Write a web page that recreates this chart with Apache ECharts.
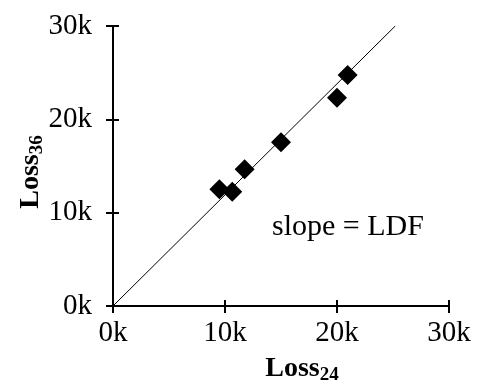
<!DOCTYPE html>
<html>
<head>
<meta charset="utf-8">
<script src="https://cdn.jsdelivr.net/npm/echarts@6/dist/echarts.min.js"></script>
<style>
html,body{margin:0;padding:0;background:#fff;}
#chart{width:483px;height:386px;}
</style>
</head>
<body>
<div id="chart"></div>
<script>
// values in thousands
var loss24 = [9.5, 10.65, 11.75, 15.0, 20.0, 20.95];
var loss36 = [12.5, 12.25, 14.65, 17.55, 22.3, 24.75];
var ldfLineX = [0, 25.2];
var ldfLineY = [0, 30];
var tickValues = [0, 10, 20, 30];
var annotation = 'slope = LDF';

var FONT = '"Liberation Serif", "DejaVu Serif", serif';
var pts = loss24.map(function (x, i) { return [x, loss36[i]]; });
var linePts = ldfLineX.map(function (x, i) { return [x, ldfLineY[i]]; });

var chart = echarts.init(document.getElementById('chart'));
function baseAxis(extra) {
  return Object.assign({
    type: 'value', min: tickValues[0], max: tickValues[tickValues.length - 1], interval: 10,
    splitLine: { show: false },
    axisLine: { show: true, onZero: false, lineStyle: { color: '#000', width: 2 } },
    axisTick: { show: true, length: 7, lineStyle: { color: '#000', width: 2 } },
    axisLabel: { color: '#000', fontFamily: FONT, fontSize: 29, formatter: '{value}k' }
  }, extra);
}
var titleRich = {
  a: { fontFamily: FONT, fontSize: 28, fontWeight: 'bold', color: '#000' },
  b: { fontFamily: FONT, fontSize: 19, fontWeight: 'bold', color: '#000', padding: [14, 0, 0, 0] }
};
chart.setOption({
  animation: false,
  backgroundColor: '#fff',
  grid: { left: 113, right: 34, top: 26, bottom: 80, outerBoundsMode: 'none', containLabel: false },
  xAxis: [
    baseAxis({
      position: 'bottom',
      axisLabel: { color: '#000', fontFamily: FONT, fontSize: 29, formatter: '{value}k', margin: 13 },
      name: '{a|Loss}{b|24}', nameLocation: 'middle', nameGap: 46, nameMoveOverlap: false,
      nameTextStyle: { rich: titleRich, padding: [0, 0, 0, 42] }
    }),
    baseAxis({
      position: 'bottom',
      axisLine: { show: false },
      axisTick: { show: true, inside: true, length: 6, lineStyle: { color: '#000', width: 2 } },
      axisLabel: { show: false }
    })
  ],
  yAxis: [
    baseAxis({
      position: 'left',
      axisLabel: { color: '#000', fontFamily: FONT, fontSize: 29, formatter: '{value}k', margin: 21 },
      name: '{a|Loss}{b|36}', nameLocation: 'middle', nameGap: 66, nameRotate: 90, nameMoveOverlap: false,
      nameTextStyle: { rich: titleRich, padding: [0, 12, 0, 0] }
    }),
    baseAxis({
      position: 'left',
      axisLine: { show: false },
      axisTick: { show: true, inside: true, length: 6, lineStyle: { color: '#000', width: 2 } },
      axisLabel: { show: false }
    })
  ],
  series: [
    {
      type: 'line', data: linePts, symbol: 'none', silent: true,
      lineStyle: { color: '#000', width: 1 }
    },
    {
      type: 'scatter', data: pts, symbol: 'diamond', symbolSize: [20, 20],
      itemStyle: { color: '#000', opacity: 1 }
    }
  ],
  graphic: [
    { type: 'text', left: 272, top: 212, style: { text: annotation, font: '30px ' + FONT, fill: '#000' } }
  ]
});
</script>
</body>
</html>
